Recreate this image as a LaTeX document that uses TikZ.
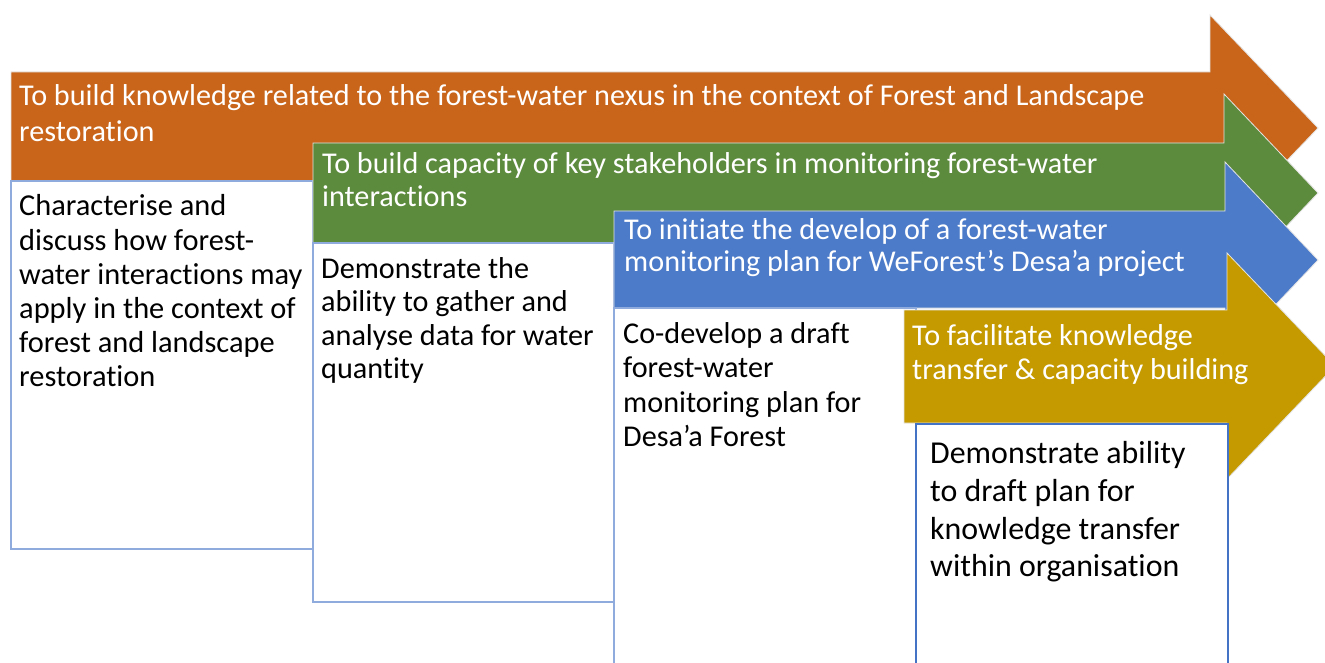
\documentclass[tikz,border=0pt]{standalone}
\usepackage{fontspec}
\setmainfont{Carlito}[Ligatures=NoCommon]
\definecolor{aimorange}{HTML}{C9651A}
\definecolor{aimgreen}{HTML}{5D8B3D}
\definecolor{aimblue}{HTML}{4C7BC9}
\definecolor{aimgold}{HTML}{C49A00}
\definecolor{paleframe}{HTML}{8FAADC}
\definecolor{deepframe}{HTML}{4472C4}
\definecolor{arrowedge}{HTML}{E4E4E4}
\begin{document}
\begin{tikzpicture}[x=1pt,y=-1pt,
  arrowshape/.style={draw=arrowedge, line width=0.8pt, line join=miter},
  outcome/.style={fill=white, draw=#1, line width=1.4pt},
  aimtext/.style={anchor=north west, inner sep=0pt, align=left, text=white,
    font=\fontsize{30.2}{#1}\selectfont},
  outtext/.style 2 args={anchor=north west, inner sep=0pt, align=left, text=black,
    font=\fontsize{#1}{#2}\selectfont},
]
\useasboundingbox (0,0) rectangle (1325,663);
\clip (0,0) rectangle (1325,663);
\fill[white] (0,0) rectangle (1325,663);

% Aim 1 and its outcome
\path[arrowshape, fill=aimorange] (11,72) -- (1210,72) -- (1210,15) -- (1318,128)
  -- (1210,241) -- (1210,184) -- (11,184) -- cycle;
\node[aimtext=36.7] (aim1) at (19,80) {\rule{0pt}{25pt}To build knowledge related to the forest-water nexus in the context of Forest and Landscape\\restoration};
\path[outcome=paleframe] (11,181) rectangle (313,549);
\node[outtext={30.4}{34.2}] (out1) at (19,190.7) {\rule{0pt}{25pt}Characterise and\\discuss how forest-\\water interactions may\\apply in the context of\\forest and landscape\\restoration};

% Aim 2 and its outcome
\path[arrowshape, fill=aimgreen] (313,143) -- (1224,143) -- (1224,94) -- (1318,193)
  -- (1224,292) -- (1224,243) -- (313,243) -- cycle;
\node[aimtext=33.4] (aim2) at (322,148.3) {\rule{0pt}{25pt}To build capacity of key stakeholders in monitoring forest-water\\interactions};
\path[outcome=paleframe] (313,243) rectangle (614,602);
\node[outtext={30.2}{33.3}] (out2) at (321,253.3) {\rule{0pt}{25pt}Demonstrate the\\ability to gather and\\analyse data for water\\quantity};

% Aim 3 and its outcome
\path[arrowshape, fill=aimblue] (614,211) -- (1225,211) -- (1225,162) -- (1318,260)
  -- (1225,358) -- (1225,308) -- (614,308) -- cycle;
\node[aimtext=32.4] (aim3) at (624,214.3) {\rule{0pt}{25pt}To initiate the develop of a forest-water\\monitoring plan for WeForest’s Desa’a project};
\path[outcome=paleframe] (614,308) rectangle (916,690);
\node[outtext={30.2}{34.4}] (out3) at (623,318.3) {\rule{0pt}{25pt}Co-develop a draft\\forest-water\\monitoring plan for\\Desa’a Forest};

% Aim 4 and its outcome
\path[arrowshape, fill=aimgold] (904,310) -- (1227,310) -- (1227,253) -- (1335,366)
  -- (1227,479) -- (1227,423) -- (904,423) -- cycle;
\node[aimtext=34.3] (aim4) at (912,320) {\rule{0pt}{25pt}To facilitate knowledge\\transfer \& capacity building};
\path[outcome=deepframe] (916,424) rectangle (1228,690);
\node[outtext={31.9}{37.8}] (out4) at (930,438.3) {\rule{0pt}{25pt}Demonstrate ability\\to draft plan for\\knowledge transfer\\within organisation};
\end{tikzpicture}
\end{document}
